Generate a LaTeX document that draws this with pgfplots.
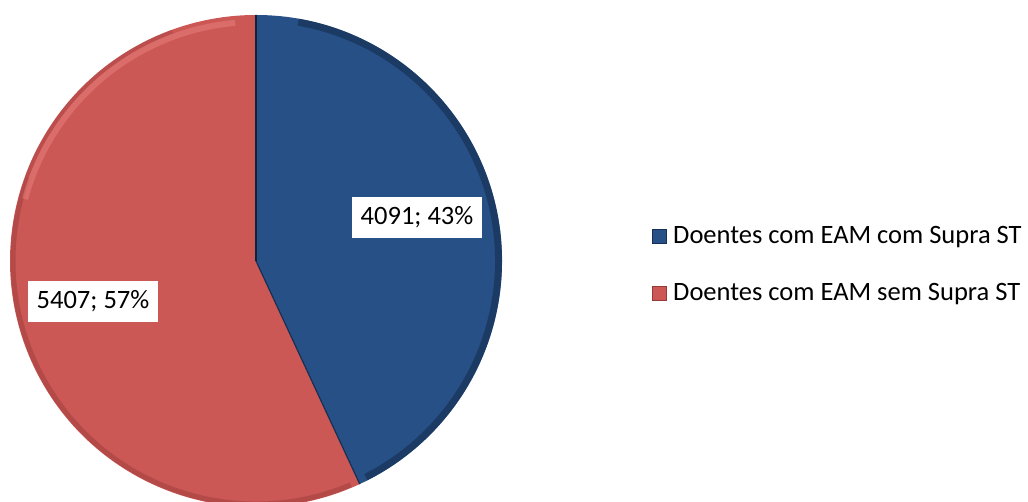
\documentclass[border=0pt]{standalone}
\usepackage{pgfplots}
\pgfplotsset{compat=1.18}
\usepackage{fontspec}
\setmainfont{Carlito}
\definecolor{pieblue}{RGB}{38,80,134}
\definecolor{piebluedark}{RGB}{22,48,84}
\definecolor{piered}{RGB}{204,88,86}
\definecolor{pieredlight}{RGB}{230,125,122}
\definecolor{pieredark}{RGB}{150,58,56}
\begin{document}
\begin{tikzpicture}
\pgfmathsetmacro{\va}{4091}
\pgfmathsetmacro{\vb}{5407}
\pgfmathsetmacro{\frac}{\va/(\va+\vb)}
\pgfmathsetmacro{\angA}{360*\frac}
\pgfmathsetmacro{\endA}{90-\angA}
\begin{axis}[width=1028pt,height=502pt,scale only axis,hide axis,
  xmin=0,xmax=1028,ymin=0,ymax=502,clip=false]
% pie centre (256,241), radius 246
\fill[pieblue] (axis cs:256,241) -- ++(90:246pt) arc[start angle=90,end angle=\endA,radius=246pt] -- cycle;
\fill[piered] (axis cs:256,241) -- ++(\endA:246pt) arc[start angle=\endA,end angle=-270,radius=246pt] -- cycle;
% bevel rims
\draw[piebluedark,line width=7pt,opacity=0.65] (axis cs:256,241) ++(80:242.5pt) arc[start angle=80,end angle={\endA+2},radius=242.5pt];
\draw[pieredark,line width=5pt,opacity=0.45] (axis cs:256,241) ++({\endA-2}:243pt) arc[start angle={\endA-2},end angle=-200,radius=243pt];
\draw[pieredark,line width=4pt,opacity=0.3] (axis cs:256,241) ++(-200:244pt) arc[start angle=-200,end angle=-250,radius=244pt];
\draw[pieredlight,line width=6pt,opacity=0.55] (axis cs:256,241) ++(165:239pt) arc[start angle=165,end angle=95,radius=239pt];
\draw[piebluedark!70!black,line width=2.5pt] (axis cs:256,241) -- ++(90:246pt);
\draw[piebluedark,line width=1.2pt] (axis cs:256,241) -- ++(\endA:246pt);
% data labels
\node[fill=white,minimum width=130pt,minimum height=41pt,inner sep=0pt,font=\fontsize{26.5}{30}\selectfont]
  at (axis cs:417,284.5) {4091; 43\%};
\node[fill=white,minimum width=130pt,minimum height=41pt,inner sep=0pt,font=\fontsize{26.5}{30}\selectfont]
  at (axis cs:93,200.5) {5407; 57\%};
% legend
\fill[pieblue] (axis cs:652,258) rectangle (axis cs:667,273);
\draw[piebluedark,line width=1pt] (axis cs:652.5,258.5) rectangle (axis cs:666.5,272.5);
\node[anchor=base west,inner sep=0pt,font=\fontsize{26.5}{30}\selectfont] at (axis cs:673,258) {Doentes com EAM com Supra ST};
\fill[piered] (axis cs:652,201) rectangle (axis cs:667,216);
\draw[pieredark,line width=1pt] (axis cs:652.5,201.5) rectangle (axis cs:666.5,215.5);
\node[anchor=base west,inner sep=0pt,font=\fontsize{26.5}{30}\selectfont] at (axis cs:673,201) {Doentes com EAM sem Supra ST};
\end{axis}
\pgfresetboundingbox
\useasboundingbox (current axis.south west) rectangle (current axis.north east);
\end{tikzpicture}
\end{document}
